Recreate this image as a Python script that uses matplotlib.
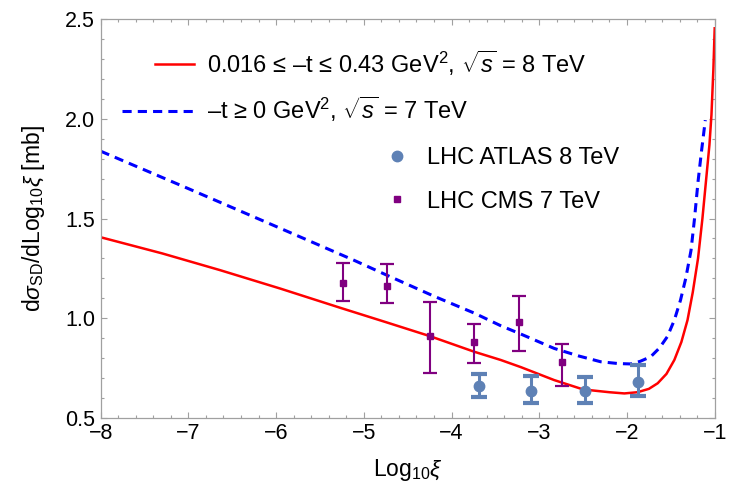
import matplotlib

matplotlib.use("Agg")
import matplotlib.pyplot as plt  # noqa: E402
import numpy as np  # noqa: E402
from matplotlib.legend_handler import HandlerLine2D  # noqa: E402
from matplotlib.lines import Line2D  # noqa: E402
from matplotlib.ticker import FuncFormatter, MultipleLocator  # noqa: E402

plt.rcParams["font.family"] = ["Liberation Sans", "DejaVu Sans"]
plt.rcParams["mathtext.fontset"] = "custom"
plt.rcParams["mathtext.rm"] = "Liberation Sans"
plt.rcParams["mathtext.it"] = "Liberation Sans:italic"
plt.rcParams["mathtext.bf"] = "Liberation Sans:bold"

# curves
red_x = [-8.0, -7.3, -6.64, -5.95, -5.27, -4.75, -4.25, -3.74, -3.44, -3.21, -2.83,
         -2.5, -2.2, -2.03, -1.88, -1.75, -1.65, -1.55, -1.46, -1.38, -1.31, -1.25,
         -1.19, -1.14, -1.10, -1.06, -1.037, -1.015, -1.0]
red_y = [1.406, 1.325, 1.241, 1.148, 1.052, 0.98, 0.91, 0.831, 0.79, 0.754, 0.689,
         0.642, 0.628, 0.622, 0.628, 0.645, 0.673, 0.72, 0.79, 0.88, 0.99, 1.13,
         1.30, 1.50, 1.685, 1.87, 2.02, 2.25, 2.455]

blue_x = [-8.0, -7.0, -6.0, -5.12, -4.74, -4.2, -3.74, -3.44, -3.21, -2.83, -2.55,
          -2.30, -2.10, -1.96, -1.85, -1.73, -1.63, -1.54, -1.46, -1.39, -1.33,
          -1.27, -1.23, -1.19, -1.15, -1.107]
blue_y = [1.838, 1.65, 1.46, 1.292, 1.216, 1.11, 1.025, 0.962, 0.92, 0.848, 0.81,
          0.781, 0.772, 0.770, 0.783, 0.806, 0.85, 0.907, 0.99, 1.09, 1.20,
          1.34, 1.50, 1.685, 1.84, 1.994]

# LHC ATLAS 8 TeV
atlas_x = [-3.69, -3.09, -2.48, -1.88]
atlas_y = [0.659, 0.636, 0.632, 0.679]
atlas_up = [0.060, 0.073, 0.071, 0.084]
atlas_dn = [0.054, 0.064, 0.060, 0.068]

# LHC CMS 7 TeV
cms_x = [-5.24, -4.74, -4.25, -3.74, -3.23, -2.74]
cms_y = [1.175, 1.161, 0.910, 0.882, 0.982, 0.778]
cms_up = [0.103, 0.109, 0.171, 0.087, 0.129, 0.092]
cms_dn = [0.091, 0.085, 0.184, 0.109, 0.146, 0.117]

RED = "#ff0000"
BLUE = "#0000ff"
ATLAS_C = "#5e81b5"
CMS_C = "#800080"
FRAME = "#a0a0a0"


class RightLine(HandlerLine2D):
    """legend line drawn only over the right part of the handle box"""

    def __init__(self, frac=1.0, **kw):
        super().__init__(**kw)
        self.frac = frac

    def create_artists(self, *args, **kw):
        arts = super().create_artists(*args, **kw)
        for a in arts:
            x = np.asarray(a.get_xdata(), dtype=float)
            if len(x) >= 2:
                a.set_xdata(np.linspace(x[-1] - self.frac * (x[-1] - x[0]), x[-1], len(x)))
        return arts


fig = plt.figure(figsize=(7.52, 4.88), dpi=100)
ax = fig.add_axes([0.1339, 0.144, 0.8165, 0.8164])

ax.plot(red_x, red_y, color=RED, lw=1.8)
ax.plot(blue_x, blue_y, color=BLUE, lw=2.2, dashes=(3, 2))

ax.errorbar(cms_x, cms_y, yerr=[cms_dn, cms_up], fmt="s", color=CMS_C, ms=5,
            elinewidth=1.5, capsize=5, capthick=1.6, zorder=4)
ax.errorbar(atlas_x, atlas_y, yerr=[atlas_dn, atlas_up], fmt="o", color=ATLAS_C,
            ms=7.5, elinewidth=2.2, capsize=6, capthick=3, zorder=5)

ax.set_xlim(-8, -1)
ax.set_ylim(0.5, 2.5)
ax.xaxis.set_major_locator(MultipleLocator(1))
ax.xaxis.set_minor_locator(MultipleLocator(0.2))
ax.yaxis.set_major_locator(MultipleLocator(0.5))
ax.yaxis.set_minor_locator(MultipleLocator(0.1))
ax.xaxis.set_major_formatter(FuncFormatter(lambda v, p: f"{v:.0f}".replace("-", "\u2212")))
ax.yaxis.set_major_formatter(FuncFormatter(lambda v, p: f"{v:.1f}"))
ax.tick_params(which="both", direction="in", top=True, right=True, color=FRAME,
               labelsize=15.5, width=0.8)
ax.tick_params(which="major", length=4.5, pad=4)
ax.tick_params(which="minor", length=2.5)
for s in ax.spines.values():
    s.set_color(FRAME)
    s.set_linewidth(0.9)

ax.set_xlabel(r"Log$_{10}\xi$", fontsize=16.5, labelpad=9)
ax.set_ylabel(r"d$\sigma_{\rm SD}$/dLog$_{10}\xi$ [mb]", fontsize=16.5)
ax.yaxis.set_label_coords(-0.088, 0.5)

red_h = Line2D([], [], color=RED, lw=1.8)
blue_h = Line2D([], [], color=BLUE, lw=2.2, dashes=(3, 2))
line_labels = [
    r"0.016 ≤ –t ≤ 0.43 GeV$^2$, $\sqrt{s}$ = 8 TeV",
    r"–t ≥ 0 GeV$^2$, $\sqrt{s}$ = 7 TeV",
]
leg1 = ax.legend([red_h, blue_h], line_labels, loc="upper left",
                 bbox_to_anchor=(0.035, 0.9275), frameon=False, fontsize=17,
                 handlelength=3.05, handletextpad=0.55, labelspacing=0.72,
                 borderaxespad=0, borderpad=0,
                 handler_map={red_h: RightLine(frac=0.54)})
ax.add_artist(leg1)

pt_handles = [
    Line2D([], [], ls="none", marker="o", color=ATLAS_C, ms=7.5),
    Line2D([], [], ls="none", marker="s", color=CMS_C, ms=5),
]
pt_labels = ["LHC ATLAS 8 TeV", "LHC CMS 7 TeV"]
ax.legend(pt_handles, pt_labels, loc="upper left", bbox_to_anchor=(0.463, 0.6785),
          frameon=False, fontsize=17, handlelength=1.0, handletextpad=0.8,
          labelspacing=0.9, borderaxespad=0, borderpad=0)

fig.savefig("out.png", dpi=100)
